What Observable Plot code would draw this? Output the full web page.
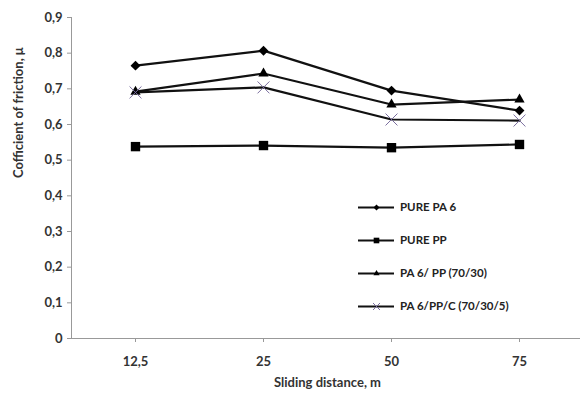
<!DOCTYPE html>
<html><head><meta charset="utf-8">
<script src="https://cdn.jsdelivr.net/npm/d3@7"></script>
<script src="https://cdn.jsdelivr.net/npm/@observablehq/plot@0.6"></script>
<style>
body{margin:0;background:#fff;font-family:Lato,"Open Sans",sans-serif;}
#wrap{position:relative;width:583px;height:394px;}
#legend{position:absolute;left:358px;top:190px;font:bold 11.5px Lato,sans-serif;color:#222;}
#legend .row{display:flex;align-items:center;height:33px;}
#legend svg{margin-right:6px;}
</style></head><body>
<div id="wrap"><div id="legend"></div></div>
<script>
const distances = ["12,5", "25", "50", "75"];
const seriesNames = ["PURE PA 6", "PURE PP", "PA 6/ PP (70/30)", "PA 6/PP/C (70/30/5)"];
const purePA6 = [0.765, 0.807, 0.695, 0.639];
const purePP = [0.538, 0.541, 0.535, 0.544];
const pa6pp = [0.692, 0.743, 0.656, 0.670];
const pa6ppc = [0.690, 0.704, 0.614, 0.611];
const yTicks = [0, 0.1, 0.2, 0.3, 0.4, 0.5, 0.6, 0.7, 0.8, 0.9];

const allSeries = [purePA6, purePP, pa6pp, pa6ppc];
const data = allSeries.flatMap((vals, i) => vals.map((v, j) => ({series: seriesNames[i], x: distances[j], y: v})));
const bySeries = name => data.filter(d => d.series === name);

const symbols = ["diamond2", "square", "triangle2", "times"];
const symColor = ["#000", "#000", "#000", "#7a6e9e"];
const symSize = [20, 28, 24, 30];

const marks = [
  Plot.ruleY([0], {stroke: "#999", insetLeft: -4, insetRight: 3}),
  Plot.frame({anchor: "left", stroke: "#999"}),
  Plot.axisY({ticks: yTicks, tickSize: 4, tickFormat: d => String(d).replace(".", ","), stroke: "#999", fill: "#333", fontWeight: "bold", fontSize: 13, tickPadding: 5, label: null}),
  Plot.axisX({tickSize: 4, stroke: "#999", fill: "#333", fontWeight: "bold", fontSize: 13, tickPadding: 14, label: null}),
];
seriesNames.forEach((name, i) => {
  marks.push(Plot.line(bySeries(name), {x: "x", y: "y", stroke: "#111", strokeWidth: 2.2}));
});
seriesNames.forEach((name, i) => {
  const isX = symbols[i] === "times";
  marks.push(Plot.dot(bySeries(name), {x: "x", y: "y", symbol: symbols[i], r: Math.sqrt(symSize[i]),
    fill: isX ? "none" : symColor[i], stroke: symColor[i], strokeWidth: isX ? 1 : 0}));
});
marks.push(Plot.text(["Cofficient of friction, μ"], {frameAnchor: "left", rotate: -90, dx: -53, text: d => d, fontWeight: "bold", fontSize: 13, fill: "#333"}));
marks.push(Plot.text(["Sliding distance, m"], {frameAnchor: "bottom", dy: 48, text: d => d, fontWeight: "bold", fontSize: 13, fill: "#333"}));

const chart = Plot.plot({
  width: 583, height: 394,
  marginLeft: 71, marginRight: 0, marginTop: 17, marginBottom: 56,
  style: {fontFamily: "Lato, 'Open Sans', sans-serif", background: "#fff", overflow: "visible"},
  x: {type: "point", domain: distances, padding: 0.5},
  y: {domain: [0, 0.9]},
  marks
});
const wrap = document.getElementById("wrap");
wrap.insertBefore(chart, wrap.firstChild);

const legend = document.getElementById("legend");
seriesNames.forEach((name, i) => {
  const row = document.createElement("div");
  row.className = "row";
  const isX = symbols[i] === "times";
  const sw = Plot.plot({width: 36, height: 14, margin: 0, axis: null,
    x: {domain: [0, 1]}, y: {domain: [0, 1]},
    style: {overflow: "visible", background: "transparent"},
    marks: [
      Plot.ruleY([0.5], {stroke: "#111", strokeWidth: 2}),
      Plot.dot([{x: 0.5, y: 0.5}], {x: "x", y: "y", symbol: symbols[i], r: Math.sqrt(symSize[i]) * 0.6,
        fill: isX ? "none" : symColor[i], stroke: symColor[i], strokeWidth: isX ? 1 : 0})
    ]});
  row.appendChild(sw);
  const t = document.createElement("span");
  t.textContent = name;
  row.appendChild(t);
  legend.appendChild(row);
});
</script>
</body></html>
